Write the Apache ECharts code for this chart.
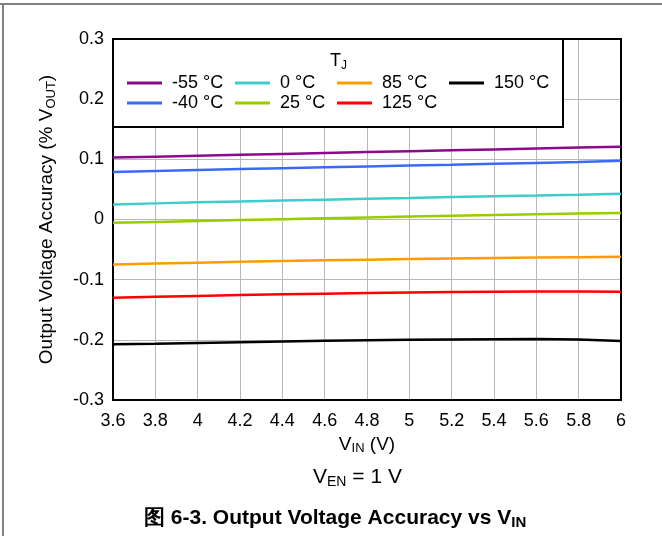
<!DOCTYPE html>
<html>
<head>
<meta charset="utf-8">
<script src="https://cdn.jsdelivr.net/npm/echarts@6/dist/echarts.min.js"></script>
<style>
html,body{margin:0;padding:0;background:#fff;}
#chart{width:662px;height:536px;}
</style>
</head>
<body>
<div id="chart"></div>
<script>
var vin = [3.6, 3.8, 4.0, 4.2, 4.4, 4.6, 4.8, 5.0, 5.2, 5.4, 5.6, 5.8, 6.0];
var seriesNames = ['-55 °C', '-40 °C', '0 °C', '25 °C', '85 °C', '125 °C', '150 °C'];
var tm55 = [0.103, 0.1045, 0.106, 0.1075, 0.109, 0.1105, 0.112, 0.1135, 0.115, 0.1165, 0.118, 0.1195, 0.121];
var tm40 = [0.079, 0.0806, 0.0822, 0.0838, 0.0853, 0.0868, 0.0882, 0.0896, 0.091, 0.0925, 0.094, 0.0955, 0.0975];
var t0 = [0.025, 0.0268, 0.0285, 0.030, 0.0315, 0.033, 0.0345, 0.0358, 0.0372, 0.0385, 0.0398, 0.0412, 0.0427];
var t25 = [-0.0055, -0.004, -0.0025, -0.001, 0.0005, 0.002, 0.0035, 0.005, 0.0063, 0.0075, 0.0088, 0.010, 0.011];
var t85 = [-0.0748, -0.0732, -0.0717, -0.0703, -0.069, -0.0678, -0.0667, -0.0657, -0.0648, -0.064, -0.0633, -0.0627, -0.062];
var t125 = [-0.130, -0.1285, -0.127, -0.1255, -0.1243, -0.1232, -0.1222, -0.1213, -0.1205, -0.120, -0.1198, -0.1198, -0.1202];
var t150 = [-0.2075, -0.2065, -0.2052, -0.204, -0.2028, -0.2015, -0.2005, -0.1998, -0.1993, -0.199, -0.1988, -0.1995, -0.2018];
var colors = ['#8b0a8b', '#3a6af5', '#3ecccc', '#99cc00', '#ff9c00', '#ff0000', '#000000'];
var allData = [tm55, tm40, t0, t25, t85, t125, t150];

var FONT = '"Liberation Sans", Arial, sans-serif';

function pairs(ys) { return vin.map(function (x, i) { return [x, ys[i]]; }); }

var series = allData.map(function (d, i) {
  return {
    name: seriesNames[i], type: 'line', data: pairs(d), showSymbol: false, symbol: 'none',
    lineStyle: { color: colors[i], width: 2.5 }, itemStyle: { color: colors[i] }, z: 3
  };
});

function mkLegend(left, names) {
  return {
    orient: 'vertical', left: left, top: 74, itemWidth: 35, itemHeight: 3, icon: 'rect',
    itemGap: 2, data: names, selectedMode: false, z: 10, padding: 0,
    textStyle: { fontFamily: FONT, fontSize: 18, color: '#000', padding: [0, 0, 0, 5] }
  };
}

var chart = echarts.init(document.getElementById('chart'), null, { renderer: 'canvas' });
chart.setOption({
  animation: false,
  backgroundColor: '#fff',
  color: colors,
  textStyle: { fontFamily: FONT },
  grid: { left: 113, right: 41, top: 39, bottom: 136, show: true, borderColor: '#000', borderWidth: 2, z: 1 },
  xAxis: {
    type: 'value', min: 3.6, max: 6, interval: 0.2,
    name: 'V{sub|IN} (V)', nameLocation: 'middle', nameGap: 32,
    nameTextStyle: { fontFamily: FONT, fontSize: 19, color: '#000', rich: { sub: { fontSize: 13, padding: [9, 0, 0, 0], fontFamily: FONT } } },
    axisLine: { show: false }, axisTick: { show: false },
    axisLabel: { fontFamily: FONT, fontSize: 18, color: '#000', margin: 12, formatter: function (v) { return String(+v.toFixed(1)); } },
    splitLine: { show: true, lineStyle: { color: '#b8b8b8', width: 1 } }
  },
  yAxis: {
    type: 'value', min: -0.3, max: 0.3, interval: 0.1,
    name: 'Output Voltage Accuracy (% V{sub|OUT})', nameLocation: 'middle', nameGap: 55, nameRotate: 90,
    nameTextStyle: { fontFamily: FONT, fontSize: 19, color: '#000', rich: { sub: { fontSize: 13, padding: [9, 0, 0, 0], fontFamily: FONT } } },
    axisLine: { show: false }, axisTick: { show: false },
    axisLabel: { fontFamily: FONT, fontSize: 18, color: '#000', margin: 9, formatter: function (v) { return String(+v.toFixed(1)); } },
    splitLine: { show: true, lineStyle: { color: '#b8b8b8', width: 1 } }
  },
  legend: [
    mkLegend(127, ['-55 °C', '-40 °C']),
    mkLegend(235, ['0 °C', '25 °C']),
    mkLegend(337, ['85 °C', '125 °C']),
    mkLegend(449, ['150 °C'])
  ],
  graphic: [
    { type: 'line', shape: { x1: 0, y1: 4, x2: 662, y2: 4 }, style: { stroke: '#808080', lineWidth: 2 }, z: 20 },
    { type: 'line', shape: { x1: 3, y1: 4, x2: 3, y2: 536 }, style: { stroke: '#808080', lineWidth: 2 }, z: 20 },
    { type: 'rect', shape: { x: 113, y: 39, width: 450, height: 88 }, style: { fill: '#fff', stroke: '#000', lineWidth: 2 }, z: 5 },
    { type: 'text', left: 330, top: 52, z: 11, style: { text: 'T{sub|J}', fontFamily: FONT, fontSize: 18, fill: '#000', rich: { sub: { fontSize: 12, padding: [9, 0, 0, 0], fontFamily: FONT } } } },
    { type: 'text', left: 313, top: 467, z: 11, style: { text: 'V{sub|EN} = 1 V', fontFamily: FONT, fontSize: 21, fill: '#000', rich: { sub: { fontSize: 14, padding: [10, 0, 0, 0], fontFamily: FONT } } } },
    { type: 'text', left: 144, top: 508, z: 11, style: { text: '图 6-3. Output Voltage Accuracy vs V{sub|IN}', fontFamily: FONT, fontSize: 21, fontWeight: 'bold', fill: '#000', rich: { sub: { fontSize: 15, fontWeight: 'bold', padding: [9, 0, 0, 0], fontFamily: FONT } } } }
  ],
  series: series
});
</script>
</body>
</html>
